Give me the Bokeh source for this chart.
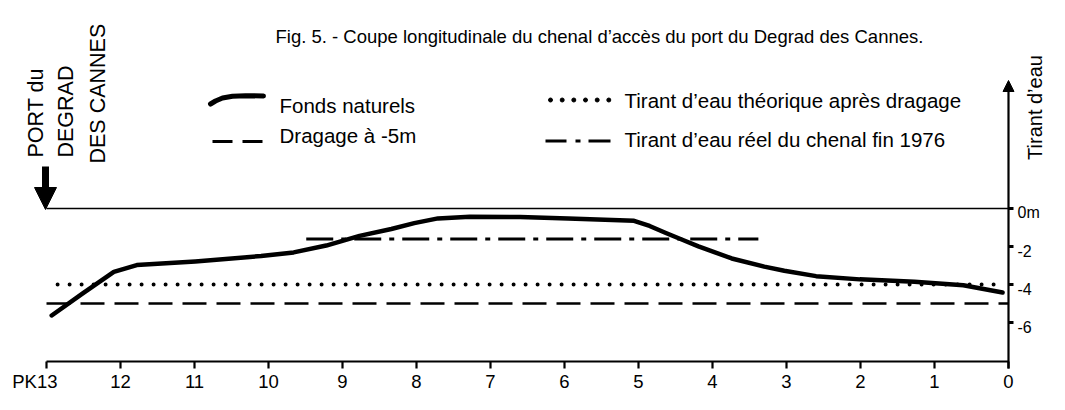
import numpy as np
from bokeh.plotting import figure
from bokeh.models import Range1d, Arrow, NormalHead
from bokeh.core.properties import value
from bokeh.embed import file_html
from bokeh.resources import INLINE

# ---------------- data ----------------
pk_ticks = [13, 12, 11, 10, 9, 8, 7, 6, 5, 4, 3, 2, 1, 0]
pk_labels = ["PK13", "12", "11", "10", "9", "8", "7", "6", "5", "4", "3", "2", "1", "0"]
depth_ticks = [0, -2, -4, -6]
depth_labels = ["0m", "-2", "-4", "-6"]

# Fonds naturels (natural bed), depth in m vs PK in km
fonds_pk = [12.93, 12.51, 12.09, 11.78, 10.99, 10.10, 9.66, 9.22, 8.77, 8.34,
            8.03, 7.71, 7.28, 6.60, 5.95, 5.06, 4.85, 4.63, 4.40, 4.19,
            3.74, 3.30, 3.03, 2.60, 2.01, 1.27, 0.61, 0.08]
fonds_depth = [-5.63, -4.47, -3.34, -2.98, -2.79, -2.50, -2.31, -1.95, -1.44, -1.08,
               -0.77, -0.52, -0.43, -0.45, -0.52, -0.65, -0.92, -1.29, -1.66, -1.99,
               -2.63, -3.06, -3.28, -3.56, -3.73, -3.86, -4.04, -4.42]

# Dragage à -5m
dragage_pk = [13.0, 0.0]
dragage_depth = [-5.0, -5.0]

# Tirant d'eau théorique après dragage
theo_pk = [12.85, 0.1]
theo_depth = [-4.0, -4.0]

# Tirant d'eau réel du chenal fin 1976
reel_pk = [9.49, 3.38]
reel_depth = [-1.6, -1.6]

# zero line
zero_pk = [13.0, 0.0]
zero_depth = [0.0, 0.0]

caption = "Fig. 5. - Coupe longitudinale du chenal d\u2019acc\u00e8s du port du Degrad des Cannes."
legend_labels = ["Fonds naturels", "Dragage \u00e0  -5m",
                 "Tirant d\u2019eau th\u00e9orique apr\u00e8s dragage",
                 "Tirant d\u2019eau r\u00e9el du chenal fin 1976"]

# ---------------- page geometry helpers ----------------
X0_PX, PX_PER_KM = 1008.0, 74.0    # figure x of PK 0
Y0_PX, PX_PER_M = 208.0, 19.0      # figure y of 0 m
W, H = 1049, 394


def dx(px):
    return (X0_PX - px) / PX_PER_KM


def dy(py):
    return (Y0_PX - py) / PX_PER_M


FONT = value("Liberation Sans")

p = figure(width=W, height=H, output_backend="svg", toolbar_location=None,
           x_range=Range1d(dx(0), dx(W)), y_range=Range1d(dy(H), dy(0)),
           x_axis_location=None, y_axis_location=None, min_border=0,
           outline_line_color=None, background_fill_color="white",
           border_fill_color="white")
p.grid.visible = False

# ---------------- chart lines ----------------
p.line(zero_pk, zero_depth, line_color="black", line_width=1.6)
p.line(dragage_pk, dragage_depth, line_color="black", line_width=2.5, line_dash="24 10")
p.line(theo_pk, theo_depth, line_color="black", line_width=4, line_dash="0 12",
       line_cap="round")
p.line(reel_pk, reel_depth, line_color="black", line_width=3, line_dash="27 8 5 8")
p.line(fonds_pk, fonds_depth, line_color="black", line_width=4.5, line_join="round",
       line_cap="round")

# ---------------- axes (hand drawn) ----------------
axis_y = dy(361)
p.line([pk_ticks[0], pk_ticks[-1]], [axis_y, axis_y], line_color="black", line_width=2.2)
p.segment(x0=pk_ticks, y0=[axis_y] * len(pk_ticks), x1=pk_ticks,
          y1=[axis_y - 7 / PX_PER_M] * len(pk_ticks), line_color="black", line_width=2.2)
p.text(x=pk_ticks[1:], y=[dy(380.5)] * (len(pk_ticks) - 1), text=pk_labels[1:],
       text_font=FONT, text_font_size=value("18.5px"), text_align="center",
       text_baseline="middle", text_color="black")
p.text(x=pk_ticks[:1], y=[dy(380.5)], text=pk_labels[:1], x_offset=11,
       text_font=FONT, text_font_size=value("18.5px"), text_align="right",
       text_baseline="middle", text_color="black")

# right axis with arrow
p.add_layout(Arrow(end=NormalHead(size=11, fill_color="black", line_color="black"),
                   x_start=0, y_start=dy(368), x_end=0, y_end=dy(80),
                   line_color="black", line_width=2.2))
p.segment(x0=[0] * len(depth_ticks), y0=depth_ticks, x1=[dx(X0_PX + 5)] * len(depth_ticks),
          y1=depth_ticks, line_color="black", line_width=3)
p.text(x=[dx(1017)] * len(depth_ticks), y=[d - 4 / PX_PER_M for d in depth_ticks],
       text=depth_labels, text_font=FONT, text_font_size=value("16px"),
       text_align="left", text_baseline="alphabetic", text_color="black")
p.text(x=[dx(1034)], y=[dy(107)], text=["Tirant d\u2019eau"], angle=np.pi / 2,
       text_font=FONT, text_font_size=value("20px"), text_align="center",
       text_baseline="middle", text_color="black")

# ---------------- port marker ----------------
p.add_layout(Arrow(end=NormalHead(size=22, fill_color="black", line_color="black"),
                   x_start=dx(45), y_start=dy(166), x_end=dx(45), y_end=dy(209),
                   line_color="black", line_width=7))
p.text(x=[dx(35.5), dx(65.5), dx(97)], y=[dy(157), dy(157), dy(163)],
       text=["PORT du", "DEGRAD", "DES  CANNES"], angle=np.pi / 2,
       text_font=FONT, text_font_size=value("21.5px"), text_align="left",
       text_baseline="alphabetic", text_color="black")

# ---------------- caption ----------------
p.text(x=[dx(275)], y=[dy(36)], text=[caption], text_font=FONT,
       text_font_size=value("18.5px"), text_align="left", text_baseline="alphabetic",
       text_color="black")

# ---------------- legend ----------------
lx = [210, 215, 222, 232, 245, 263]
ly = [103.5, 100.5, 97.5, 95.8, 95.2, 95.5]
p.line([dx(v) for v in lx], [dy(v) for v in ly], line_color="black", line_width=5,
       line_cap="round", line_join="round")
p.segment(x0=[dx(212), dx(242)], y0=[dy(141)] * 2, x1=[dx(232), dx(262)], y1=[dy(141)] * 2,
          line_color="black", line_width=3)
p.scatter(x=[dx(v) for v in [550, 561.7, 573.3, 585, 596.7, 608.3]], y=[dy(99.5)] * 6,
          marker="circle", size=4, fill_color="black", line_color="black")
p.segment(x0=[dx(545), dx(575), dx(588)], y0=[dy(140.5)] * 3,
          x1=[dx(566), dx(580), dx(610)], y1=[dy(140.5)] * 3,
          line_color="black", line_width=3)
p.text(x=[dx(279), dx(279), dx(624), dx(624)], y=[dy(105), dy(135), dy(100), dy(138.5)],
       text=legend_labels, text_font=FONT, text_font_size=value("20.5px"),
       text_align="left", text_baseline="alphabetic", text_color="black")

open("out.html", "w").write(file_html(p, INLINE))
